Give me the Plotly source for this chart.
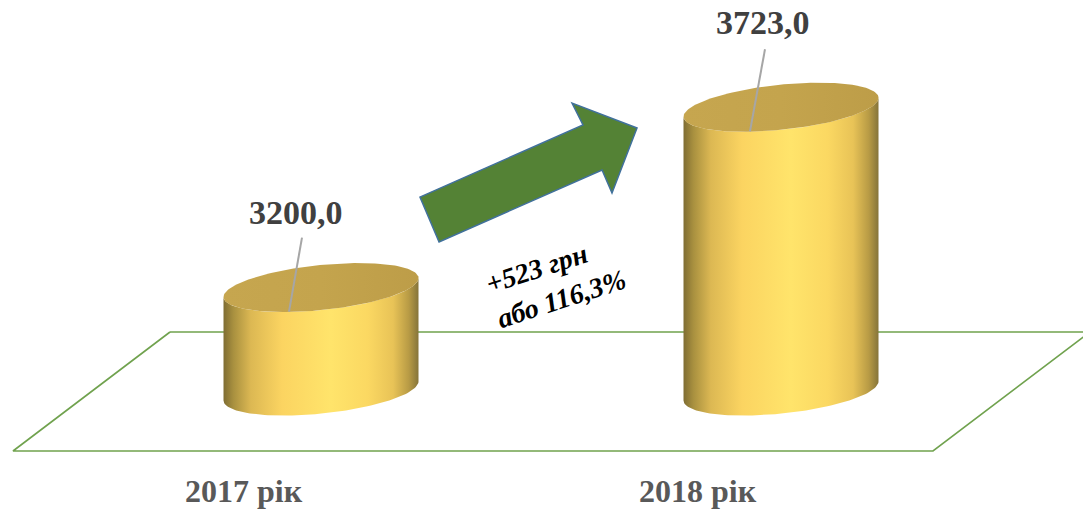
import numpy as np
import plotly.graph_objects as go

# ---------------- data ----------------
categories = ["2017 рік", "2018 рік"]
values = [3200.0, 3723.0]
change_abs = 523
change_pct = 116.3

# ---------------- geometry / style ----------------
W, H = 1083, 510
X0_PX, X_UNIT_PX = 321, 460          # pixel of category 0, pixels per category step
BASE, BASE_PX, V_PER_PX = 2900, 391, 2.9

x_range = [-X0_PX / X_UNIT_PX, (W - X0_PX) / X_UNIT_PX]
y_range = [BASE - (H - BASE_PX) * V_PER_PX, BASE + BASE_PX * V_PER_PX]

RX = 97.5 / X_UNIT_PX
RY = 22.6 * V_PER_PX
SHEAR = (19 / 195) * V_PER_PX * X_UNIT_PX


def px2data(px, py):
    return (px - X0_PX) / X_UNIT_PX, BASE + (BASE_PX - py) * V_PER_PX


def px2paper(px, py):
    return px / W, 1 - py / H


def ellipse_pts(cx, cy, t):
    x = cx + RX * np.cos(t)
    y = cy - RY * np.sin(t) + SHEAR * (x - cx)
    return x, y


body_scale = [[0, '#7f6d33'], [0.05, '#a8903f'], [0.14, '#dcb853'], [0.3, '#fbd461'],
              [0.55, '#ffe46b'], [0.74, '#fbd862'], [0.87, '#e8c357'], [0.95, '#b89b45'],
              [1, '#85743a']]
top_scale = [[0, '#c6a64f'], [0.5, '#c4a44d'], [1, '#bd9d48']]

label_shift = [(-25, 75), (-18, 85)]       # value label offset (px)
leader = [((-32, -24), (-19, 50)), ((-31, -24), (-16, 58))]   # leader start/end (px, up positive)
cat_shift = [(-77, -100), (-83, -100)]

fig = go.Figure()

# floor
floor_px = [(170, 332), (1090, 332), (933, 451), (13, 451)]
fpts = [px2data(*p) for p in floor_px]
fx = [p[0] for p in fpts] + [fpts[0][0]]
fy = [p[1] for p in fpts] + [fpts[0][1]]
fig.add_trace(go.Scatter(x=fx, y=fy, mode='lines', line=dict(color='#70a24e', width=1.6),
                         hoverinfo='skip', showlegend=False))

# cylinders
for i, v in enumerate(values):
    tb = np.linspace(np.pi, 0, 80)
    bx, by = ellipse_pts(i, BASE, tb)
    tt = np.linspace(0, np.pi, 80)
    tx, ty = ellipse_pts(i, v, tt)
    fig.add_trace(go.Scatter(x=np.concatenate([bx, tx]), y=np.concatenate([by, ty]),
                             mode='lines', fill='toself', line=dict(width=0, color='rgba(0,0,0,0)'),
                             fillgradient=dict(type='horizontal', colorscale=body_scale),
                             hoverinfo='skip', showlegend=False))
    tf = np.linspace(0, 2 * np.pi, 160)
    ex, ey = ellipse_pts(i, v, tf)
    fig.add_trace(go.Scatter(x=ex, y=ey, mode='lines', fill='toself',
                             line=dict(width=0, color='rgba(0,0,0,0)'),
                             fillgradient=dict(type='horizontal', colorscale=top_scale),
                             hoverinfo='skip', showlegend=False))
    # leader line
    (sx, sy), (exx, eyy) = leader[i]
    fig.add_trace(go.Scatter(x=[i + sx / X_UNIT_PX, i + exx / X_UNIT_PX],
                             y=[v + sy * V_PER_PX, v + eyy * V_PER_PX],
                             mode='lines', line=dict(color='#a6a6a6', width=2),
                             hoverinfo='skip', showlegend=False))
    fig.add_annotation(x=i, y=v, xref='x', yref='y', showarrow=False,
                       xshift=label_shift[i][0], yshift=label_shift[i][1],
                       text='<b>' + f"{v:.1f}".replace('.', ',') + '</b>',
                       font=dict(family='Liberation Serif', size=34, color='#404040'))
    fig.add_annotation(x=i, y=BASE, xref='x', yref='y', showarrow=False,
                       xshift=cat_shift[i][0], yshift=cat_shift[i][1],
                       text='<b>' + categories[i] + '</b>',
                       font=dict(family='Liberation Serif', size=32, color='#595959'))

# growth arrow
arrow_px = [(439, 242), (420, 197), (583, 125), (572, 103), (637, 128), (612, 193), (602, 170)]
ap = [px2paper(*p) for p in arrow_px]
path = 'M ' + ' L '.join(f'{x:.4f},{y:.4f}' for x, y in ap) + ' Z'
fig.add_shape(type='path', path=path, xref='paper', yref='paper',
              fillcolor='#548235', line=dict(color='#41719c', width=1.5), layer='above')

ax, ay = px2paper(555, 281)
fig.add_annotation(x=ax, y=ay, xref='paper', yref='paper', showarrow=False,
                   textangle=-18, align='left',
                   text=f"<b><i>+{change_abs} грн<br>або " + f"{change_pct:.1f}".replace('.', ',') + "%</i></b>",
                   font=dict(family='Liberation Serif', size=28, color='#000000'))

fig.update_layout(width=W, height=H, margin=dict(l=0, r=0, t=0, b=0),
                  paper_bgcolor='white', plot_bgcolor='white',
                  xaxis=dict(range=x_range, visible=False, fixedrange=True),
                  yaxis=dict(range=y_range, visible=False, fixedrange=True),
                  showlegend=False)

fig.write_html("out.html", config={'displayModeBar': False},
               post_script="document.body.style.margin='0';document.body.style.overflow='hidden';")
